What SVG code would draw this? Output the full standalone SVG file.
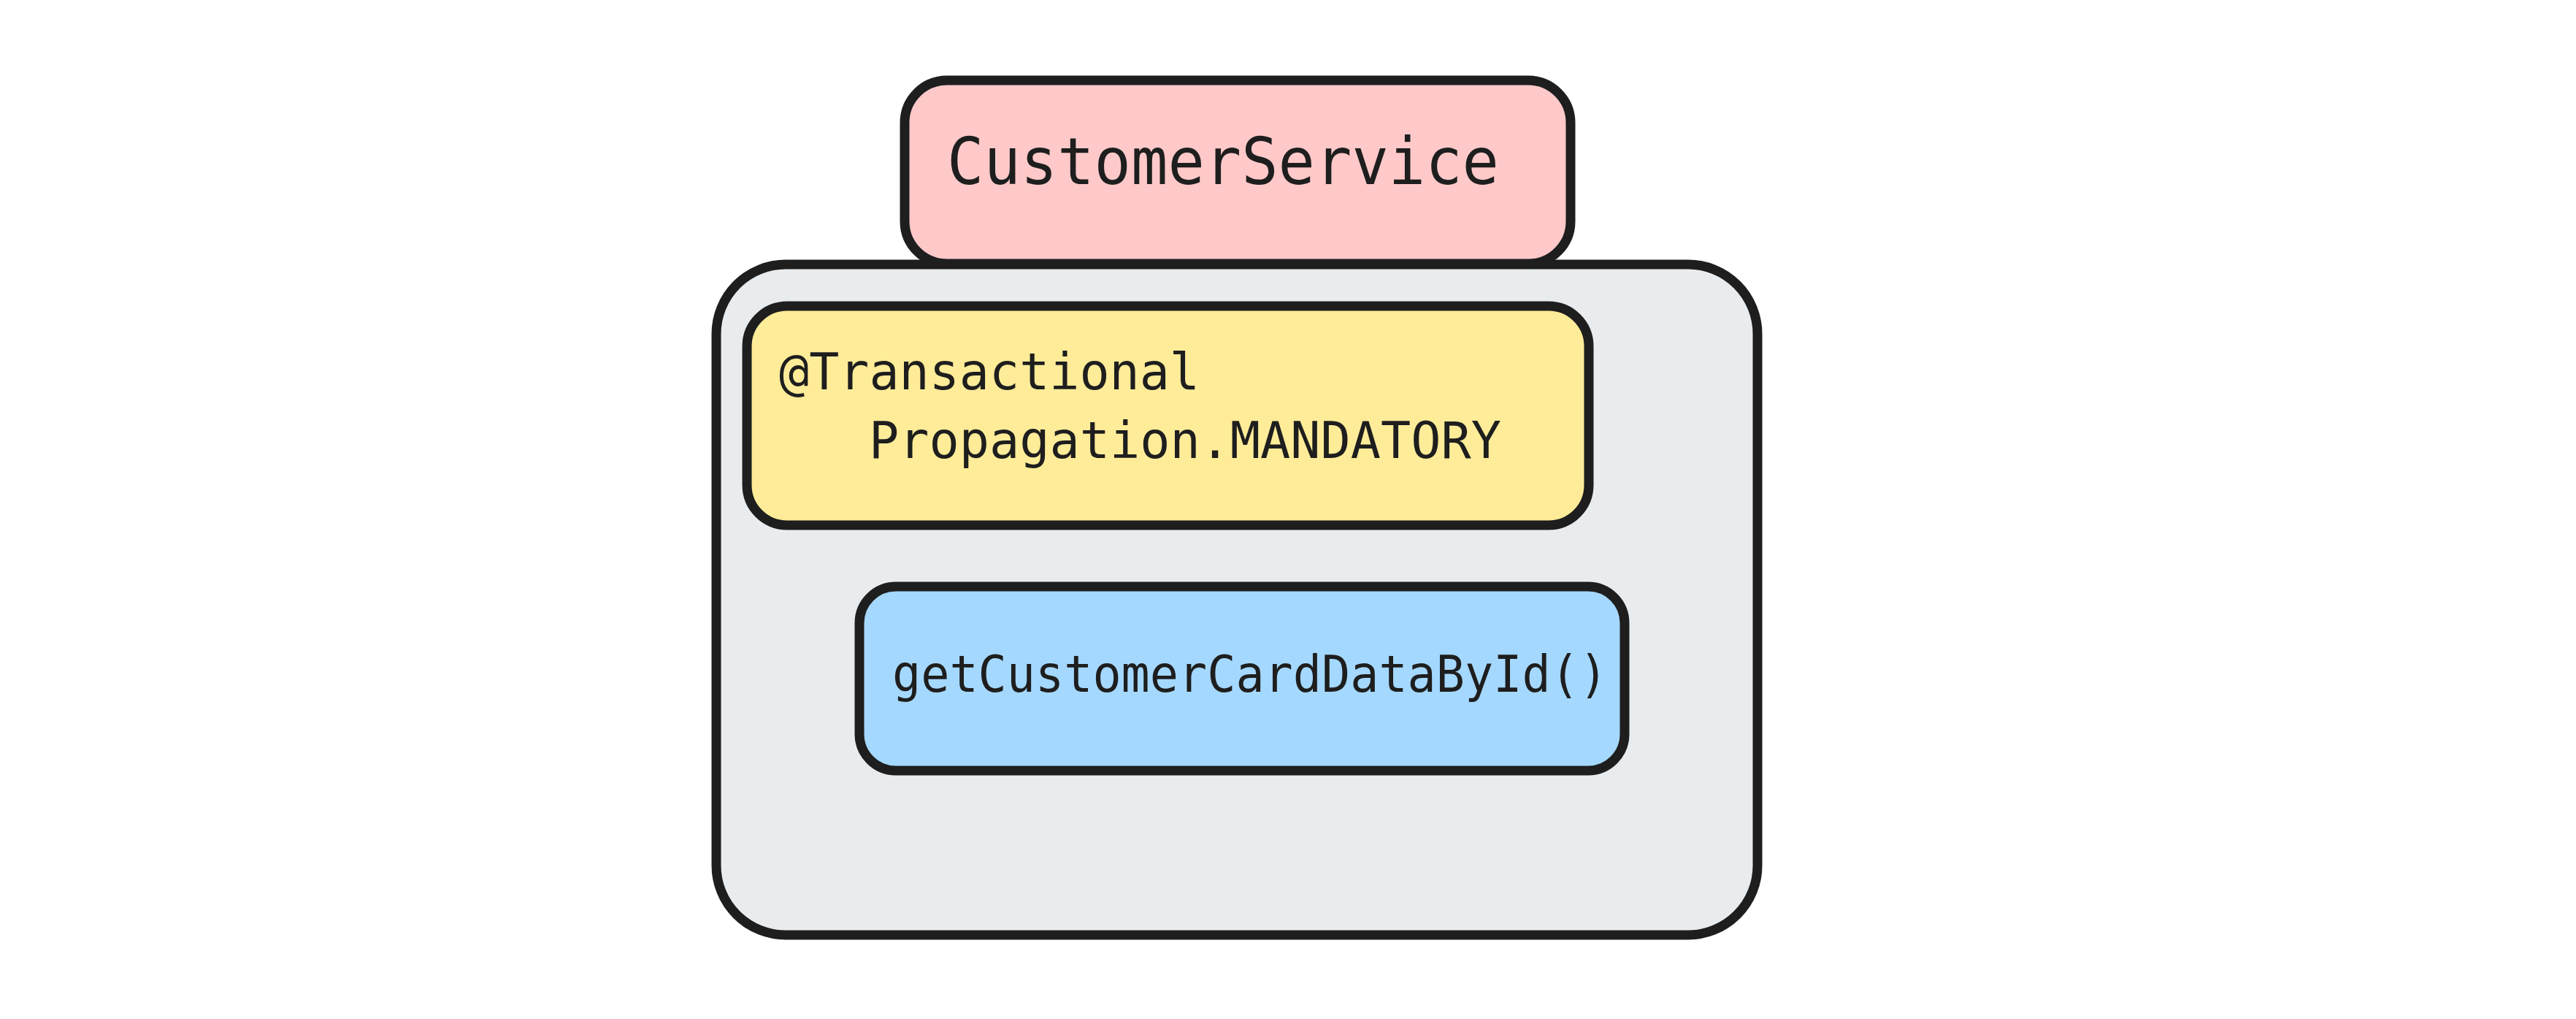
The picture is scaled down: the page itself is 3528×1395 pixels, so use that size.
<svg xmlns="http://www.w3.org/2000/svg" width="3528" height="1395" viewBox="0 0 3528 1395">
<style>
.box{stroke:#1e1e1e;stroke-width:13;stroke-linejoin:round}
.lbl{font-family:"DejaVu Sans Mono","Liberation Mono",monospace;fill:#1e1e1e}
</style>
<rect width="3528" height="1395" fill="#ffffff"/>
<g id="service-container">
<rect class="box" x="981" y="362" width="1426" height="918" rx="95" ry="95" fill="#e9ecef"/>
</g>
<g id="customer-service">
<rect class="box" x="1239" y="110" width="912" height="251" rx="58" ry="58" fill="#ffc9c9"/>
<text class="lbl" x="1297" y="252" font-size="89" textLength="756" lengthAdjust="spacingAndGlyphs">CustomerService</text>
</g>
<g id="transactional">
<rect class="box" x="1023" y="419" width="1153" height="300" rx="55" ry="55" fill="#ffec99"/>
<text class="lbl" x="1067" y="533" font-size="69" textLength="576" lengthAdjust="spacingAndGlyphs">@Transactional</text>
<text class="lbl" x="1190" y="627" font-size="69" textLength="866" lengthAdjust="spacingAndGlyphs">Propagation.MANDATORY</text>
</g>
<g id="get-customer-card">
<rect class="box" x="1177" y="803" width="1048" height="252" rx="50" ry="50" fill="#a5d8ff"/>
<text class="lbl" x="1222" y="947" font-size="69" textLength="980" lengthAdjust="spacingAndGlyphs">getCustomerCardDataById()</text>
</g>
<g id="connectors"/>
</svg>
